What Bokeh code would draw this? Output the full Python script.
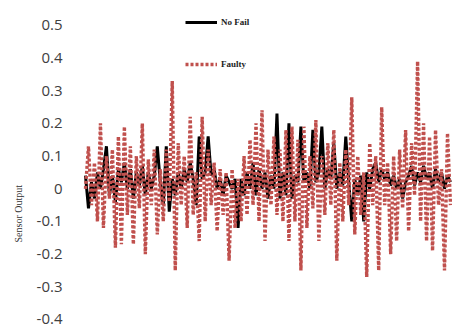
from bokeh.plotting import figure
from bokeh.models import ColumnDataSource, Legend, LegendItem, Title, FixedTicker
from bokeh.embed import file_html
from bokeh.resources import INLINE

# ---- data ----
no_fail = [0.04, -0.06, 0.02, -0.03, 0.05, 0.00, 0.06, 0.13, -0.02, 0.04,
           -0.04, 0.06, 0.02, 0.08, 0.00, 0.06, -0.03, 0.05, 0.01, 0.07,
           -0.02, 0.05, 0.00, 0.04, 0.13, 0.02, -0.05, 0.13, -0.07, 0.03,
           -0.02, 0.05, 0.00, 0.06, 0.02, 0.08, 0.03, -0.05, 0.16, 0.03,
           0.05, 0.16, 0.04, 0.06, 0.00, 0.03, -0.02, 0.04, 0.02, 0.00,
           0.03, -0.12, 0.03, -0.02, 0.05, 0.00, 0.08, -0.02, 0.06, 0.00,
           0.05, -0.03, 0.04, 0.00, 0.23, -0.03, 0.05, -0.02, 0.20, -0.03,
           0.04, 0.02, 0.19, 0.02, 0.05, 0.00, 0.18, 0.02, 0.05, 0.19,
           0.00, 0.06, 0.03, 0.14, 0.00, 0.05, 0.01, 0.16, 0.02, -0.10,
           0.03, -0.02, 0.04, -0.10, 0.05, 0.00, 0.06, 0.08, 0.02, 0.06,
           0.03, 0.05, 0.01, 0.04, 0.00, 0.03, -0.03, 0.02, 0.04, 0.07,
           0.01, 0.05, 0.02, 0.07, 0.03, 0.05, 0.00, 0.06, 0.02, 0.05,
           0.00, 0.04, 0.02]

faulty = [0.00, 0.13, -0.05, 0.08, -0.10, 0.20, -0.12, 0.10, -0.03, 0.12,
          -0.18, 0.16, -0.17, 0.19, -0.08, 0.13, -0.17, 0.10, -0.06, 0.20,
          -0.20, 0.09, -0.05, 0.12, -0.14, 0.06, -0.10, 0.12, -0.04, 0.33,
          -0.25, 0.14, -0.05, 0.10, -0.12, 0.22, -0.08, 0.05, -0.16, 0.22,
          -0.10, 0.12, -0.05, 0.08, -0.13, 0.06, -0.08, 0.05, -0.22, 0.06,
          -0.12, 0.03, -0.10, 0.10, -0.08, 0.15, -0.05, 0.20, -0.10, 0.24,
          -0.16, 0.12, -0.05, 0.16, -0.08, 0.12, -0.10, 0.18, -0.16, 0.19,
          -0.10, 0.15, -0.25, 0.19, -0.12, 0.10, -0.06, 0.21, -0.16, 0.10,
          -0.08, 0.14, -0.05, 0.18, -0.22, 0.08, -0.10, 0.12, -0.05, 0.28,
          -0.14, 0.10, -0.08, 0.05, -0.27, 0.14, -0.05, 0.10, -0.25, 0.25,
          -0.05, 0.08, -0.20, 0.10, -0.16, 0.12, -0.06, 0.18, -0.13, 0.14,
          -0.02, 0.39, -0.10, 0.20, -0.16, 0.16, -0.19, 0.18, -0.05, 0.06,
          -0.25, 0.17, -0.05]

y_ticks = [-0.4, -0.3, -0.2, -0.1, 0.0, 0.1, 0.2, 0.3, 0.4, 0.5]
y_tick_labels = ["-0.4", "-0.3", "-0.2", "-0.1", "0", "0.1", "0.2", "0.3", "0.4", "0.5"]
series_names = ["No Fail", "Faulty"]
y_title = "Sensor Output"

idx = list(range(len(faulty)))
src = ColumnDataSource(dict(x=idx, nf=no_fail, fa=faulty))

p = figure(width=452, height=329, output_backend="svg", toolbar_location=None,
           x_range=(-2.67, 122.67), y_range=(-0.4245, 0.521),
           x_axis_location=None, min_border_left=76, min_border_right=0,
           min_border_top=18, min_border_bottom=2)
p.outline_line_color = None
p.grid.visible = False
p.background_fill_color = "white"

yax = p.yaxis[0]
yax.ticker = FixedTicker(ticks=y_ticks)
yax.major_label_overrides = {t: l for t, l in zip(y_ticks, y_tick_labels)}
yax.axis_line_color = None
yax.major_tick_line_color = None
yax.minor_tick_line_color = None
yax.major_label_standoff = 9
yax.major_label_text_font = "Open Sans"
yax.major_label_text_font_size = "15px"
yax.major_label_text_color = "#404040"

r_nf = p.line("x", "nf", source=src, line_color="black", line_width=3)
r_fa = p.line("x", "fa", source=src, line_color="#c0504d", line_width=3.4,
              line_dash="3 2", line_cap="butt")

legend = Legend(items=[LegendItem(label=series_names[0], renderers=[r_nf]),
                       LegendItem(label=series_names[1], renderers=[r_fa])],
                location=(108, 256), orientation="vertical",
                glyph_width=32, glyph_height=14, label_height=14, spacing=28,
                padding=0, margin=0, label_standoff=4,
                label_text_font="Liberation Serif", label_text_font_size="9px",
                label_text_font_style="bold", label_text_color="#222222",
                background_fill_alpha=0, border_line_color=None)
p.add_layout(legend)

p.add_layout(Title(text=y_title, align="left", offset=85, standoff=20,
                   text_font="Liberation Serif", text_font_size="10px",
                   text_font_style="normal", text_color="#333333"), "left")

open("out.html", "w").write(file_html(p, INLINE))
